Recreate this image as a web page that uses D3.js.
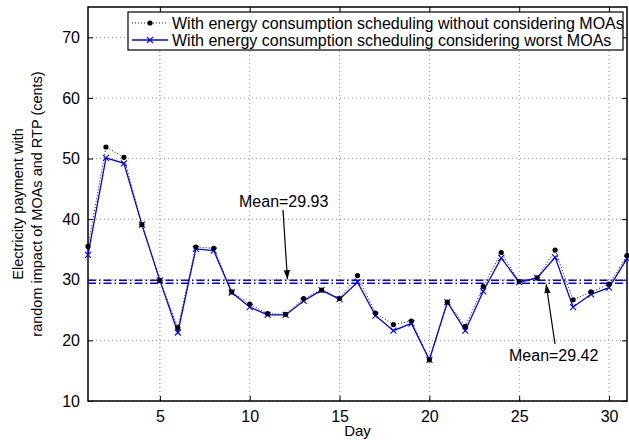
<!DOCTYPE html>
<meta charset="utf-8">
<style>
body { margin: 0; background: #fff; }
text { font-family: "Liberation Sans", Arial, sans-serif; }
</style>
<svg width="629" height="440"></svg>
<script src="https://d3js.org/d3.v7.min.js"></script>
<script>

// days 1..31
var days = d3.range(1, 32);
// without considering MOAs (black dots)
var noMOA = [35.5, 51.9, 50.2, 39.1, 29.9, 22.1, 35.4, 35.2, 28.0, 26.0,
             24.4, 24.3, 26.9, 28.3, 26.9, 30.7, 24.5, 22.6, 23.2, 16.8,
             26.3, 22.3, 28.9, 34.5, 29.7, 30.3, 34.9, 26.7, 28.0, 29.3, 34.0];
// considering worst MOAs (blue x)
var worstMOA = [34.1, 50.1, 49.2, 39.1, 29.9, 21.3, 35.1, 34.8, 27.9, 25.5,
                24.2, 24.2, 26.5, 28.3, 26.8, 29.6, 24.1, 21.6, 22.8, 16.8,
                26.3, 21.6, 28.1, 33.6, 29.6, 30.3, 33.7, 25.5, 27.6, 28.7, 33.5];
var means = [29.93, 29.42];
var xTicks = [5, 10, 15, 20, 25, 30];
var yTicks = [10, 20, 30, 40, 50, 60, 70];
var legendLabels = ["With energy consumption scheduling without considering MOAs",
                    "With energy consumption scheduling considering worst MOAs"];

var svg = d3.select("svg"),
    margin = {top: 7, right: 2, bottom: 39, left: 88},
    width = +svg.attr("width") - margin.left - margin.right,
    height = +svg.attr("height") - margin.top - margin.bottom,
    g = svg.append("g").attr("transform", "translate(" + margin.left + "," + margin.top + ")");

var x = d3.scaleLinear().domain([1, 31]).range([0, width]);
var y = d3.scaleLinear().domain([10, 75]).range([height, 0]);

// arrowhead
svg.append("defs").append("marker")
    .attr("id", "arrow")
    .attr("viewBox", "0 0 10 10")
    .attr("refX", 10).attr("refY", 5)
    .attr("markerWidth", 9).attr("markerHeight", 9)
    .attr("markerUnits", "userSpaceOnUse")
    .attr("orient", "auto")
  .append("path")
    .attr("d", "M0,1.5L10,5L0,8.5Z")
    .attr("fill", "#000");

// grid
g.append("g").selectAll("line").data(xTicks).enter().append("line")
    .attr("x1", d => x(d)).attr("x2", d => x(d))
    .attr("y1", 0).attr("y2", height)
    .attr("stroke", "#777").attr("stroke-width", 0.8)
    .attr("stroke-dasharray", "1,3");
g.append("g").selectAll("line").data(yTicks).enter().append("line")
    .attr("y1", d => y(d)).attr("y2", d => y(d))
    .attr("x1", 0).attr("x2", width)
    .attr("stroke", "#777").attr("stroke-width", 0.8)
    .attr("stroke-dasharray", "1,3");

// axes (matlab style, ticks inside)
var xAxis = g.append("g").attr("transform", "translate(0," + height + ")")
    .call(d3.axisBottom(x).tickValues(xTicks).tickSize(-5).tickPadding(10));
var xAxisTop = g.append("g")
    .call(d3.axisTop(x).tickValues(xTicks).tickSize(-5).tickFormat(""));
var yAxis = g.append("g")
    .call(d3.axisLeft(y).tickValues(yTicks).tickSize(-5).tickPadding(8));
var yAxisRight = g.append("g").attr("transform", "translate(" + width + ",0)")
    .call(d3.axisRight(y).tickValues(yTicks).tickSize(-5).tickFormat(""));
[xAxis, xAxisTop, yAxis, yAxisRight].forEach(function(a) {
  a.select(".domain").remove();
  a.selectAll("line").attr("stroke", "#000");
  a.selectAll("text").attr("font-size", 16).attr("fill", "#000")
    .attr("font-family", "'Liberation Sans', Arial, sans-serif");
});
g.append("rect").attr("width", width).attr("height", height)
    .attr("fill", "none").attr("stroke", "#000").attr("stroke-width", 1.5);

// mean lines
g.selectAll(".mean").data(means).enter().append("line")
    .attr("x1", 0).attr("x2", width)
    .attr("y1", d => y(d)).attr("y2", d => y(d))
    .attr("stroke", "#0000ff").attr("stroke-width", 1.6)
    .attr("stroke-dasharray", "8,3,1.5,3");

var line = d3.line().x((d, i) => x(days[i])).y(d => y(d));

// series lines
g.append("path").datum(noMOA).attr("d", line)
    .attr("fill", "none").attr("stroke", "#000").attr("stroke-width", 0.9)
    .attr("stroke-dasharray", "1,2");
g.append("path").datum(worstMOA).attr("d", line)
    .attr("fill", "none").attr("stroke", "#0000ff").attr("stroke-width", 1.3);

// x markers
function xMark(sel, s) {
  sel.attr("d", "M" + (-s) + "," + (-s) + "L" + s + "," + s + "M" + (-s) + "," + s + "L" + s + "," + (-s))
     .attr("stroke", "#0000ff").attr("stroke-width", 1.1).attr("fill", "none");
}
g.selectAll(".xm").data(worstMOA).enter().append("path")
    .attr("transform", (d, i) => "translate(" + x(days[i]) + "," + y(d) + ")")
    .call(xMark, 3);
g.selectAll(".dot").data(noMOA).enter().append("circle")
    .attr("cx", (d, i) => x(days[i])).attr("cy", d => y(d))
    .attr("r", 2.6).attr("fill", "#000");

// annotations
svg.append("text").attr("x", 239).attr("y", 207).attr("font-size", 16)
    .text("Mean=" + means[0].toFixed(2));
svg.append("line").attr("x1", 283).attr("y1", 210)
    .attr("x2", margin.left + x(12.1)).attr("y2", margin.top + y(means[0]) - 1)
    .attr("stroke", "#000").attr("stroke-width", 1.2).attr("marker-end", "url(#arrow)");
svg.append("text").attr("x", 509).attr("y", 361).attr("font-size", 16)
    .text("Mean=" + means[1].toFixed(2));
svg.append("line").attr("x1", 555).attr("y1", 344)
    .attr("x2", margin.left + x(26.5)).attr("y2", margin.top + y(means[1]) + 1)
    .attr("stroke", "#000").attr("stroke-width", 1.2).attr("marker-end", "url(#arrow)");

// legend
var lg = svg.append("g");
lg.append("rect").attr("x", 128).attr("y", 12).attr("width", 495).attr("height", 38)
    .attr("fill", "#fff").attr("stroke", "#000").attr("stroke-width", 1.2);
legendLabels.forEach(function(lbl, i) {
  var ly = 23 + i * 17;
  var ln = lg.append("line").attr("x1", 132).attr("x2", 168).attr("y1", ly).attr("y2", ly);
  if (i === 0) {
    ln.attr("stroke", "#000").attr("stroke-width", 0.9).attr("stroke-dasharray", "1,2");
    lg.append("circle").attr("cx", 150).attr("cy", ly).attr("r", 2.6).attr("fill", "#000");
  } else {
    ln.attr("stroke", "#0000ff").attr("stroke-width", 1.3);
    lg.append("path").attr("transform", "translate(150," + ly + ")").call(xMark, 3);
  }
  lg.append("text").attr("x", 172).attr("y", ly + 5.5).attr("font-size", 16).text(lbl);
});

// axis labels
svg.append("text").attr("x", margin.left + width / 2).attr("y", 436)
    .attr("text-anchor", "middle").attr("font-size", 15).text("Day");
var yl = svg.append("text").attr("transform", "translate(23," + (margin.top + height / 2) + ") rotate(-90)")
    .attr("text-anchor", "middle").attr("font-size", 14.5);
yl.append("tspan").attr("x", 0).attr("dy", 0).text("Electricity payment with");
yl.append("tspan").attr("x", 0).attr("dy", 19).text("random impact of MOAs and RTP (cents)");

</script>
